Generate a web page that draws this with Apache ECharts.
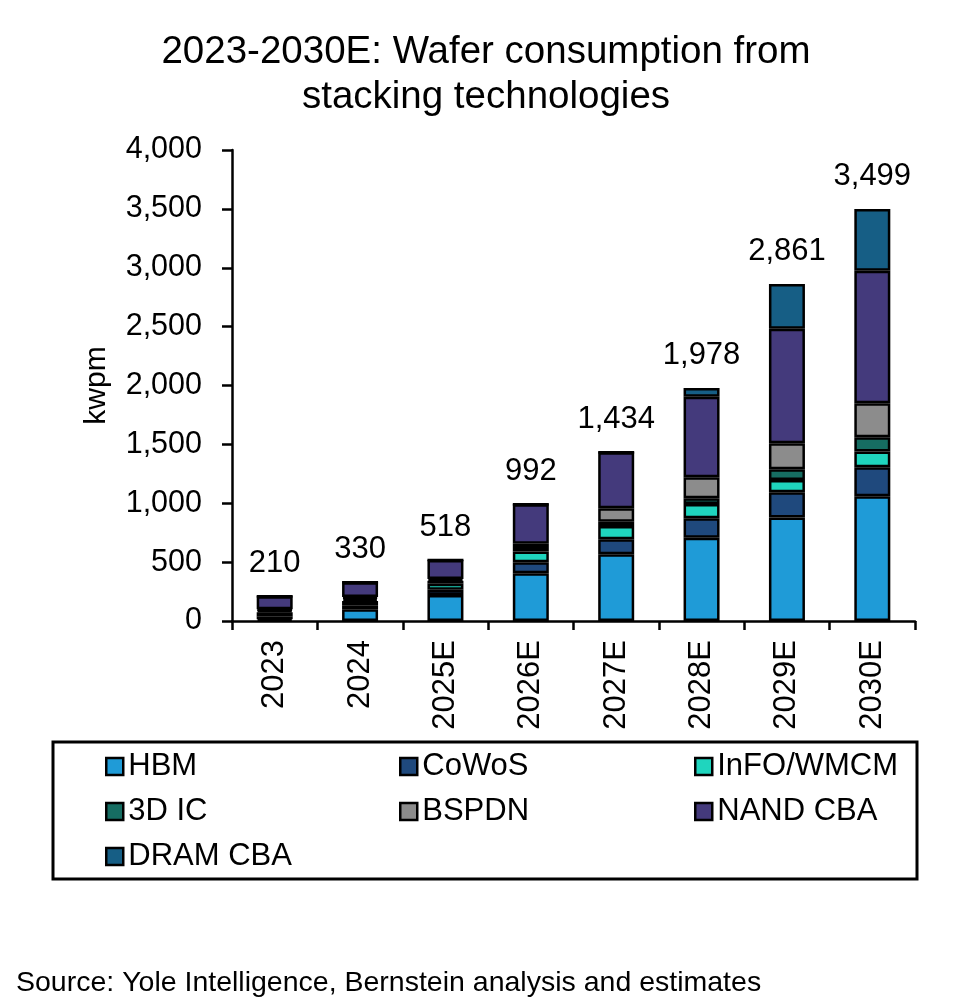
<!DOCTYPE html>
<html>
<head>
<meta charset="utf-8">
<script src="https://cdn.jsdelivr.net/npm/echarts@6/dist/echarts.min.js"></script>
<style>
  html, body { margin: 0; padding: 0; background: #fff; }
  #main { width: 972px; height: 1008px; }
</style>
</head>
<body>
<div id="main"></div>
<script>
var years = ['2023', '2024', '2025E', '2026E', '2027E', '2028E', '2029E', '2030E'];
var hbm   = [15, 99, 221, 405, 566, 707, 880, 1060];
var cowos = [25, 35, 45, 95, 128, 165, 213, 245];
var info  = [35, 35, 50, 90, 113, 122, 104, 135];
var ic3d  = [15, 20, 25, 30, 36, 48, 91, 120];
var bspdn = [10, 15, 15, 35, 114, 178, 221, 290];
var nand  = [110, 126, 162, 337, 477, 685, 974, 1125];
var dram  = [0, 0, 0, 0, 0, 73, 378, 524];
var totals = [210, 330, 518, 992, 1434, 1978, 2861, 3499];
var yTicks = [0, 500, 1000, 1500, 2000, 2500, 3000, 3500, 4000];

var FONT = 'Liberation Sans, Arial, sans-serif';

var seriesDefs = [
    { name: 'HBM', data: hbm, color: '#1f9bd7' },
    { name: 'CoWoS', data: cowos, color: '#1f497d' },
    { name: 'InFO/WMCM', data: info, color: '#1fd5be' },
    { name: '3D IC', data: ic3d, color: '#166d62' },
    { name: 'BSPDN', data: bspdn, color: '#8c8c8c' },
    { name: 'NAND CBA', data: nand, color: '#443a7c' },
    { name: 'DRAM CBA', data: dram, color: '#165e85' }
];

var chart = echarts.init(document.getElementById('main'));

var series = seriesDefs.map(function (s) {
    return {
        name: s.name,
        type: 'bar',
        stack: 'total',
        barWidth: 36,
        data: s.data,
        itemStyle: { color: s.color, borderColor: '#000', borderWidth: 2.5 }
    };
});
// totals above each bar
series.push({
    name: 'Total',
    type: 'scatter',
    data: totals,
    symbolSize: 0,
    silent: true,
    itemStyle: { opacity: 1 },
    label: {
        show: true,
        position: 'top',
        distance: 17,
        formatter: function (p) { return p.value.toLocaleString('en-US'); },
        fontFamily: FONT,
        fontSize: 31,
        color: '#000',
        opacity: 1
    }
});

function legendCol(left, names) {
    return {
        orient: 'vertical',
        left: left,
        top: 746,
        itemGap: 14,
        itemWidth: 17,
        itemHeight: 17,
        icon: 'rect',
        data: names,
        selectedMode: false,
        itemStyle: { borderColor: '#000', borderWidth: 2.5 },
        textStyle: { fontFamily: FONT, fontSize: 31, color: '#000', padding: [0, 0, 0, 0] }
    };
}

var option = {
    backgroundColor: '#fff',
    animation: false,
    title: [{
        text: '2023-2030E: Wafer consumption from\nstacking technologies',
        left: 'center',
        top: 25,
        textStyle: { fontFamily: FONT, fontSize: 38.5, fontWeight: 'normal', color: '#000', lineHeight: 45 }
    }, {
        text: 'Source: Yole Intelligence, Bernstein analysis and estimates',
        left: 11,
        top: 964,
        textStyle: { fontFamily: FONT, fontSize: 28.5, fontWeight: 'normal', color: '#000' }
    }],
    legend: [
        legendCol(100, ['HBM', '3D IC', 'DRAM CBA']),
        legendCol(394, ['CoWoS', 'BSPDN']),
        legendCol(689, ['InFO/WMCM', 'NAND CBA'])
    ],
    graphic: [{
        type: 'rect',
        shape: { x: 53, y: 742, width: 864, height: 137 },
        style: { fill: 'none', stroke: '#000', lineWidth: 3 }
    }],
    grid: { left: 232, right: 57, top: 150, bottom: 387 },
    xAxis: {
        type: 'category',
        data: years,
        axisLine: { lineStyle: { color: '#000', width: 2.5 } },
        axisTick: { show: true, alignWithLabel: false, length: 9, lineStyle: { color: '#000', width: 2.5 } },
        axisLabel: { rotate: 90, margin: 19, fontFamily: FONT, fontSize: 31, color: '#000' }
    },
    yAxis: {
        type: 'value',
        min: 0,
        max: 4000,
        interval: 500,
        name: 'kwpm',
        nameLocation: 'middle',
        nameGap: 120,
        nameRotate: 90,
        nameTextStyle: { fontFamily: FONT, fontSize: 30, color: '#000' },
        splitLine: { show: false },
        axisLine: { show: true, lineStyle: { color: '#000', width: 2.5 } },
        axisTick: { show: true, length: 10, inside: false, lineStyle: { color: '#000', width: 2.5 } },
        axisLabel: {
            margin: 30,
            fontFamily: FONT,
            fontSize: 30.5,
            color: '#000',
            formatter: function (v) { return yTicks.indexOf(v) >= 0 ? v.toLocaleString('en-US') : ''; }
        }
    },
    series: series
};

chart.setOption(option);
</script>
</body>
</html>
